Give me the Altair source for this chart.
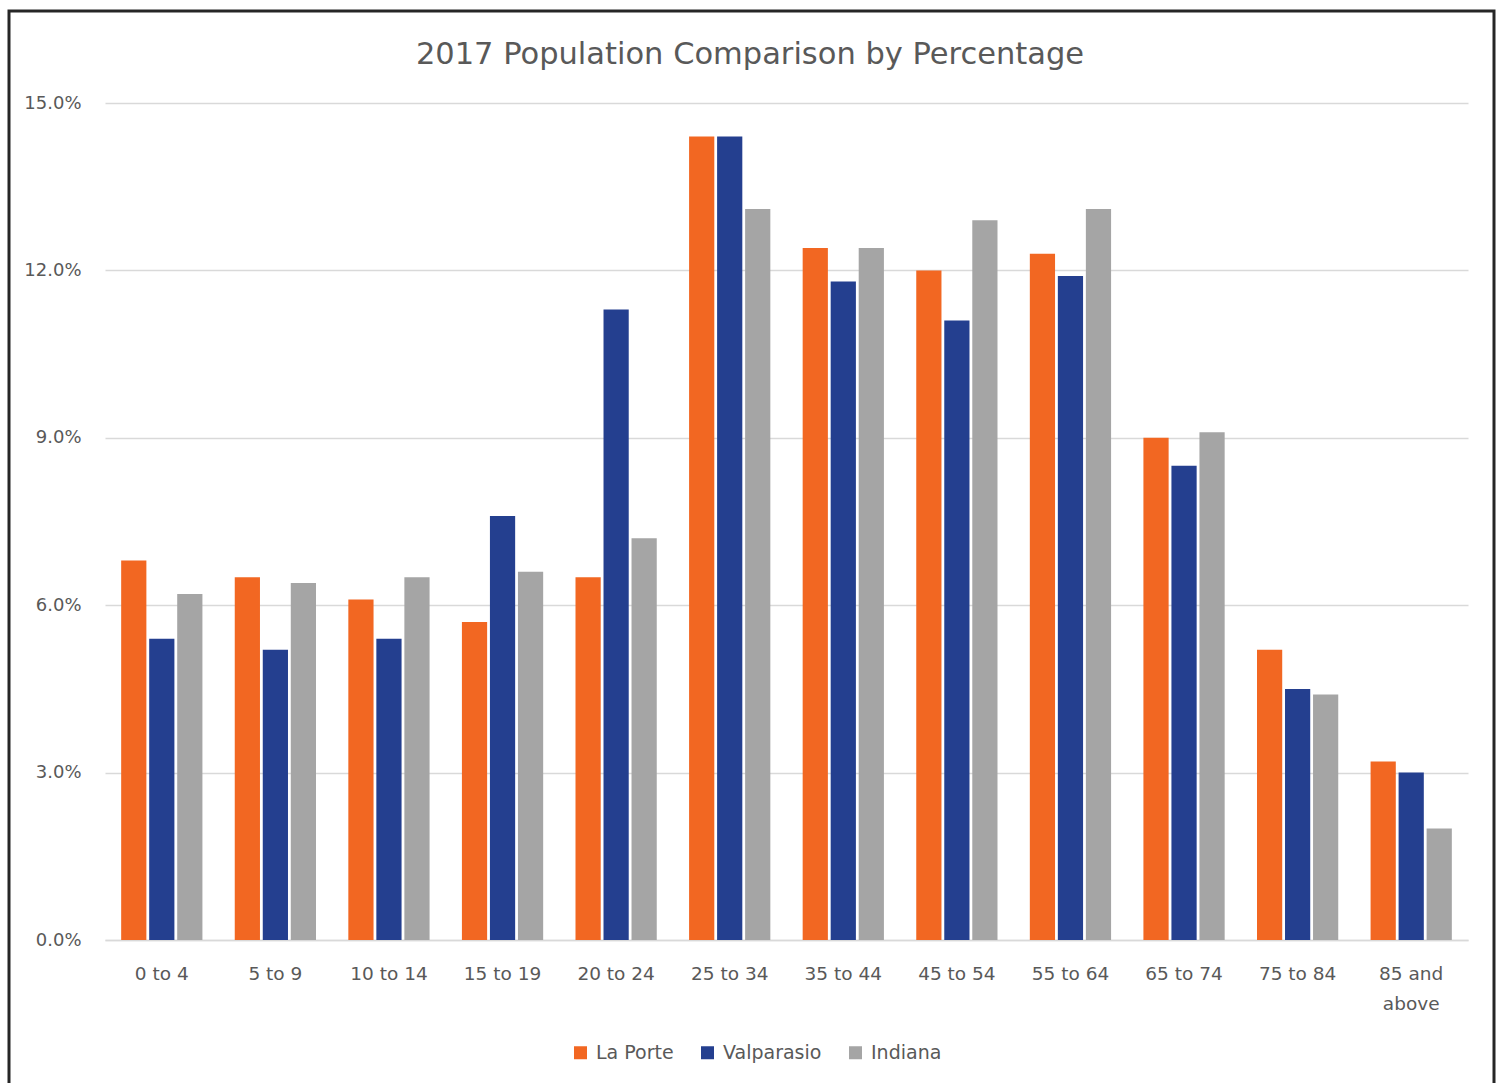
import altair as alt
import pandas as pd

# Age brackets along the x axis and the three compared populations
age_groups = ["0 to 4", "5 to 9", "10 to 14", "15 to 19", "20 to 24", "25 to 34",
              "35 to 44", "45 to 54", "55 to 64", "65 to 74", "75 to 84", "85 and above"]
series = ["La Porte", "Valparasio", "Indiana"]

# Share of population (%) per age bracket
la_porte = [6.8, 6.5, 6.1, 5.7, 6.5, 14.4, 12.4, 12.0, 12.3, 9.0, 5.2, 3.2]
valparasio = [5.4, 5.2, 5.4, 7.6, 11.3, 14.4, 11.8, 11.1, 11.9, 8.5, 4.5, 3.0]
indiana = [6.2, 6.4, 6.5, 6.6, 7.2, 13.1, 12.4, 12.9, 13.1, 9.1, 4.4, 2.0]

colors = ["#F26722", "#243F8F", "#A5A5A5"]
y_ticks = [0, 3, 6, 9, 12, 15]
title_text = "2017 Population Comparison by Percentage"

rows = []
for name, vals in zip(series, [la_porte, valparasio, indiana]):
    for age, v in zip(age_groups, vals):
        rows.append({"age": age, "series": name, "pct": v})
df = pd.DataFrame(rows)

FONT = "DejaVu Sans"
TEXT = "#595959"
GRID = "#D9D9D9"

bars = alt.Chart(df).mark_bar().encode(
    x=alt.X(
        "age:N", sort=age_groups, title=None,
        scale=alt.Scale(paddingInner=0.26, paddingOuter=0.13),
        axis=alt.Axis(
            labelAngle=0, ticks=False, grid=False,
            domain=True, domainColor=GRID, domainWidth=1.5,
            labelPadding=24, labelFontSize=18.5, labelColor=TEXT, labelFont=FONT,
            labelLineHeight=30,
            labelExpr="datum.label == '85 and above' ? ['85 and', 'above'] : datum.label",
        ),
    ),
    xOffset=alt.XOffset(
        "series:N", sort=series,
        scale=alt.Scale(paddingInner=0.1, paddingOuter=0.05),
    ),
    y=alt.Y(
        "pct:Q", title=None,
        scale=alt.Scale(domain=[0, 15]),
        axis=alt.Axis(
            values=y_ticks, domain=False, ticks=False,
            gridColor=GRID, gridWidth=1.5,
            labelPadding=24, labelFontSize=18, labelColor=TEXT, labelFont=FONT,
            labelExpr="format(datum.value, '.1f') + '%'",
        ),
    ),
    color=alt.Color(
        "series:N", sort=series,
        scale=alt.Scale(domain=series, range=colors),
        legend=alt.Legend(
            title=None, orient="none", direction="horizontal",
            legendX=466, legendY=940,
            symbolType="square", symbolSize=169, symbolStrokeWidth=0,
            labelFontSize=19, labelColor=TEXT, labelFont=FONT,
            labelOffset=6, columnPadding=24,
        ),
    ),
)

# Chart heading, centred over the whole figure
heading = alt.Chart(alt.Data(values=[{"t": title_text}])).mark_text(
    font=FONT, fontSize=30.5, color=TEXT, align="center", baseline="middle"
).encode(
    text="t:N", x=alt.value(645), y=alt.value(-48),
)

# Outer frame around the whole figure
frame = alt.Chart(alt.Data(values=[{}])).mark_rect(
    fillOpacity=0, stroke="#262626", strokeWidth=3
).encode(
    x=alt.value(-96), x2=alt.value(1389),
    y=alt.value(-92), y2=alt.value(1000),
)

chart = alt.layer(frame, heading, bars).properties(
    width=1363, height=837,
    padding={"left": 105, "top": 103, "right": 34, "bottom": 143},
    autosize=alt.AutoSizeParams(type="none"),
    view=alt.ViewBackground(stroke="transparent", strokeWidth=0),
).configure_view(stroke="transparent", strokeWidth=0).configure(background="white")

chart.save("out.html", embed_options={"renderer": "svg", "actions": False})
